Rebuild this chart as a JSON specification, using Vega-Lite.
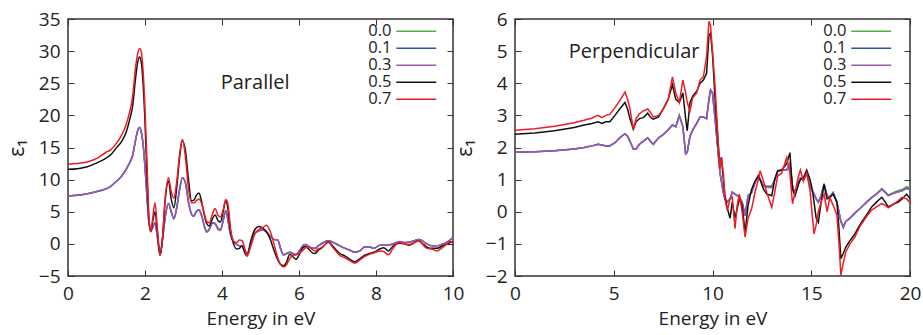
{
  "$schema": "https://vega.github.io/schema/vega-lite/v6.json",
  "padding": {"left": 5, "top": 9, "right": 5, "bottom": 3},
  "background": "white",
  "config": {
    "view": {"stroke": "#333333", "strokeWidth": 1.5},
    "font": "Open Sans",
    "axis": {"grid": false, "domain": false, "tickColor": "#333333", "tickWidth": 1, "tickSize": -6, "labelFont": "Open Sans", "labelFontSize": 19, "labelColor": "#222222", "titleFont": "Open Sans", "titleFontSize": 19, "titleFontWeight": "normal", "titleColor": "#222222", "labelFlush": false, "labelOverlap": false},
    "legend": {"orient": "none", "legendY": 4, "title": null, "symbolType": "M-3.33,0H3.33", "symbolSize": 144, "symbolStrokeWidth": 1.6, "labelAlign": "right", "labelOffset": -33, "labelFont": "Open Sans", "labelFontSize": 16.5, "labelColor": "#222222", "rowPadding": -1}
  },
  "resolve": {"scale": {"color": "independent"}, "legend": {"color": "independent"}},
  "spacing": 62,
  "bounds": "flush",
  "hconcat": [
    {
      "width": 385,
      "height": 257,
      "data": {"values": [
        {"E":0,"s0":7.45,"s1":7.45,"s3":7.45,"s5":11.6,"s7":12.4},
        {"E":0.25,"s0":7.55,"s1":7.55,"s3":7.55,"s5":11.7,"s7":12.5},
        {"E":0.5,"s0":7.8,"s1":7.8,"s3":7.8,"s5":12.0,"s7":12.75},
        {"E":0.75,"s0":8.15,"s1":8.15,"s3":8.15,"s5":12.6,"s7":13.3},
        {"E":1.0,"s0":8.6,"s1":8.6,"s3":8.6,"s5":13.4,"s7":14.3},
        {"E":1.1,"s0":8.9,"s1":8.9,"s3":8.9,"s5":13.8,"s7":14.6},
        {"E":1.25,"s0":9.7,"s1":9.7,"s3":9.7,"s5":14.9,"s7":15.6},
        {"E":1.4,"s0":10.6,"s1":10.6,"s3":10.6,"s5":16.0,"s7":17.0},
        {"E":1.5,"s0":11.5,"s1":11.5,"s3":11.5,"s5":17.2,"s7":18.4},
        {"E":1.6,"s0":12.6,"s1":12.6,"s3":12.6,"s5":19.3,"s7":20.5},
        {"E":1.68,"s0":13.8,"s1":13.8,"s3":13.8,"s5":21.5,"s7":23.0},
        {"E":1.75,"s0":16.0,"s1":16.0,"s3":16.0,"s5":25.5,"s7":27.2},
        {"E":1.81,"s0":17.6,"s1":17.6,"s3":17.6,"s5":28.3,"s7":29.6},
        {"E":1.86,"s0":18.1,"s1":18.1,"s3":18.1,"s5":29.1,"s7":30.4},
        {"E":1.9,"s0":17.5,"s1":17.5,"s3":17.5,"s5":28.4,"s7":30.0},
        {"E":1.95,"s0":15.5,"s1":15.5,"s3":15.5,"s5":25.0,"s7":27.0},
        {"E":2.0,"s0":12.0,"s1":12.0,"s3":12.0,"s5":19.0,"s7":21.0},
        {"E":2.05,"s0":7.5,"s1":7.5,"s3":7.5,"s5":11.0,"s7":13.0},
        {"E":2.1,"s0":3.5,"s1":3.5,"s3":3.5,"s5":4.0,"s7":4.5},
        {"E":2.15,"s0":2.0,"s1":2.0,"s3":2.0,"s5":1.9,"s7":1.9},
        {"E":2.2,"s0":2.6,"s1":2.6,"s3":2.6,"s5":3.5,"s7":4.0},
        {"E":2.26,"s0":3.3,"s1":3.3,"s3":3.3,"s5":5.0,"s7":6.4},
        {"E":2.32,"s0":1.2,"s1":1.2,"s3":1.2,"s5":2.0,"s7":2.5},
        {"E":2.39,"s0":-1.7,"s1":-1.7,"s3":-1.7,"s5":-1.7,"s7":-1.8},
        {"E":2.45,"s0":0.5,"s1":0.5,"s3":0.5,"s5":0.5,"s7":0.5},
        {"E":2.52,"s0":4.0,"s1":4.0,"s3":4.0,"s5":6.5,"s7":6.8},
        {"E":2.61,"s0":6.3,"s1":6.3,"s3":6.3,"s5":9.8,"s7":10.3},
        {"E":2.68,"s0":5.0,"s1":5.0,"s3":5.0,"s5":7.0,"s7":8.2},
        {"E":2.75,"s0":3.9,"s1":3.9,"s3":3.9,"s5":5.6,"s7":7.1},
        {"E":2.82,"s0":5.5,"s1":5.5,"s3":5.5,"s5":8.5,"s7":9.5},
        {"E":2.9,"s0":8.5,"s1":8.5,"s3":8.5,"s5":13.5,"s7":14.0},
        {"E":2.97,"s0":10.3,"s1":10.3,"s3":10.3,"s5":16.0,"s7":16.3},
        {"E":3.05,"s0":9.5,"s1":9.5,"s3":9.5,"s5":14.5,"s7":13.5},
        {"E":3.13,"s0":6.5,"s1":6.5,"s3":6.5,"s5":10.0,"s7":8.5},
        {"E":3.21,"s0":4.6,"s1":4.6,"s3":4.6,"s5":6.7,"s7":6.4},
        {"E":3.27,"s0":4.3,"s1":4.3,"s3":4.3,"s5":6.8,"s7":6.4},
        {"E":3.33,"s0":5.0,"s1":5.0,"s3":5.0,"s5":7.5,"s7":6.7},
        {"E":3.4,"s0":5.3,"s1":5.3,"s3":5.3,"s5":7.9,"s7":7.0},
        {"E":3.47,"s0":4.4,"s1":4.4,"s3":4.4,"s5":6.6,"s7":6.3},
        {"E":3.55,"s0":2.6,"s1":2.6,"s3":2.6,"s5":4.2,"s7":4.5},
        {"E":3.6,"s0":1.8,"s1":1.9,"s3":1.9,"s5":3.2,"s7":3.5},
        {"E":3.67,"s0":2.2,"s1":2.3,"s3":2.3,"s5":2.8,"s7":3.3},
        {"E":3.75,"s0":3.2,"s1":3.3,"s3":3.3,"s5":3.9,"s7":4.6},
        {"E":3.82,"s0":3.1,"s1":3.2,"s3":3.2,"s5":4.5,"s7":5.5},
        {"E":3.9,"s0":2.2,"s1":2.4,"s3":2.4,"s5":3.6,"s7":4.4},
        {"E":3.96,"s0":2.1,"s1":2.2,"s3":2.2,"s5":3.4,"s7":4.2},
        {"E":4.03,"s0":3.6,"s1":3.6,"s3":3.6,"s5":5.0,"s7":5.3},
        {"E":4.1,"s0":5.2,"s1":5.2,"s3":5.2,"s5":6.8,"s7":6.9},
        {"E":4.16,"s0":3.5,"s1":3.5,"s3":3.5,"s5":5.2,"s7":6.0},
        {"E":4.22,"s0":1.5,"s1":1.5,"s3":1.5,"s5":2.0,"s7":2.5},
        {"E":4.3,"s0":0.4,"s1":0.4,"s3":0.4,"s5":0.0,"s7":0.4},
        {"E":4.38,"s0":-0.1,"s1":-0.1,"s3":-0.1,"s5":-0.8,"s7":0.2},
        {"E":4.45,"s0":-0.3,"s1":-0.3,"s3":-0.3,"s5":-0.7,"s7":0.6},
        {"E":4.52,"s0":-0.3,"s1":-0.3,"s3":-0.3,"s5":-0.3,"s7":0.5},
        {"E":4.58,"s0":-0.9,"s1":-0.9,"s3":-0.9,"s5":-1.2,"s7":-0.5},
        {"E":4.65,"s0":-1.5,"s1":-1.5,"s3":-1.5,"s5":-1.9,"s7":-1.9},
        {"E":4.75,"s0":0.0,"s1":0.0,"s3":0.0,"s5":0.5,"s7":-0.3},
        {"E":4.85,"s0":1.6,"s1":1.6,"s3":1.6,"s5":2.2,"s7":1.5},
        {"E":4.95,"s0":2.0,"s1":2.0,"s3":2.0,"s5":2.7,"s7":2.2},
        {"E":5.05,"s0":2.2,"s1":2.2,"s3":2.2,"s5":2.5,"s7":2.5},
        {"E":5.15,"s0":1.9,"s1":1.9,"s3":1.9,"s5":1.9,"s7":2.9},
        {"E":5.25,"s0":1.2,"s1":1.2,"s3":1.2,"s5":0.8,"s7":2.0},
        {"E":5.35,"s0":0.7,"s1":0.7,"s3":0.7,"s5":-1.0,"s7":0.0},
        {"E":5.45,"s0":0.6,"s1":0.6,"s3":0.6,"s5":-2.5,"s7":-2.2},
        {"E":5.52,"s0":-0.7,"s1":-0.7,"s3":-0.7,"s5":-3.2,"s7":-3.2},
        {"E":5.6,"s0":-1.7,"s1":-1.7,"s3":-1.7,"s5":-3.4,"s7":-3.6},
        {"E":5.68,"s0":-1.5,"s1":-1.5,"s3":-1.5,"s5":-2.8,"s7":-3.2},
        {"E":5.76,"s0":-1.3,"s1":-1.3,"s3":-1.3,"s5":-1.6,"s7":-2.3},
        {"E":5.84,"s0":-1.5,"s1":-1.5,"s3":-1.5,"s5":-2.0,"s7":-1.8},
        {"E":5.92,"s0":-1.7,"s1":-1.7,"s3":-1.7,"s5":-2.4,"s7":-1.6},
        {"E":6.02,"s0":-1.0,"s1":-1.0,"s3":-1.0,"s5":-1.5,"s7":-1.4},
        {"E":6.1,"s0":-0.3,"s1":-0.3,"s3":-0.3,"s5":-0.6,"s7":-1.0},
        {"E":6.17,"s0":-0.1,"s1":-0.1,"s3":-0.1,"s5":-0.4,"s7":-0.6},
        {"E":6.25,"s0":-0.4,"s1":-0.4,"s3":-0.4,"s5":-0.8,"s7":-0.5},
        {"E":6.35,"s0":-0.7,"s1":-0.7,"s3":-0.7,"s5":-1.4,"s7":-0.9},
        {"E":6.42,"s0":-0.7,"s1":-0.7,"s3":-0.7,"s5":-1.5,"s7":-1.1},
        {"E":6.5,"s0":-0.3,"s1":-0.3,"s3":-0.3,"s5":-1.0,"s7":-0.8},
        {"E":6.6,"s0":0.1,"s1":0.1,"s3":0.1,"s5":-0.6,"s7":-0.5},
        {"E":6.76,"s0":0.5,"s1":0.5,"s3":0.5,"s5":0.3,"s7":0.2},
        {"E":6.9,"s0":0.2,"s1":0.2,"s3":0.2,"s5":-0.5,"s7":-0.7},
        {"E":7.06,"s0":-0.3,"s1":-0.3,"s3":-0.3,"s5":-1.5,"s7":-1.8},
        {"E":7.2,"s0":-0.7,"s1":-0.7,"s3":-0.7,"s5":-1.9,"s7":-2.2},
        {"E":7.32,"s0":-1.0,"s1":-1.0,"s3":-1.0,"s5":-2.4,"s7":-2.6},
        {"E":7.45,"s0":-1.3,"s1":-1.3,"s3":-1.3,"s5":-2.8,"s7":-3.0},
        {"E":7.6,"s0":-1.0,"s1":-1.0,"s3":-1.0,"s5":-2.2,"s7":-2.4},
        {"E":7.7,"s0":-0.5,"s1":-0.5,"s3":-0.5,"s5":-1.8,"s7":-2.0},
        {"E":7.84,"s0":-0.5,"s1":-0.5,"s3":-0.5,"s5":-1.5,"s7":-1.6},
        {"E":7.95,"s0":-0.7,"s1":-0.7,"s3":-0.7,"s5":-1.3,"s7":-1.4},
        {"E":8.1,"s0":-0.2,"s1":-0.2,"s3":-0.2,"s5":-0.8,"s7":-1.1},
        {"E":8.2,"s0":-0.2,"s1":-0.2,"s3":-0.2,"s5":-0.6,"s7":-1.2},
        {"E":8.32,"s0":-0.2,"s1":-0.2,"s3":-0.2,"s5":-1.1,"s7":-1.7},
        {"E":8.45,"s0":0.0,"s1":0.0,"s3":0.0,"s5":-0.3,"s7":-0.6},
        {"E":8.6,"s0":0.3,"s1":0.3,"s3":0.3,"s5":0.1,"s7":0.2},
        {"E":8.75,"s0":0.2,"s1":0.2,"s3":0.2,"s5":0.0,"s7":0.0},
        {"E":8.86,"s0":0.3,"s1":0.3,"s3":0.3,"s5":-0.2,"s7":-0.1},
        {"E":9.0,"s0":0.5,"s1":0.5,"s3":0.5,"s5":0.2,"s7":0.2},
        {"E":9.1,"s0":0.7,"s1":0.7,"s3":0.7,"s5":0.5,"s7":0.5},
        {"E":9.2,"s0":0.5,"s1":0.5,"s3":0.5,"s5":0.1,"s7":0.0},
        {"E":9.32,"s0":0.0,"s1":0.0,"s3":0.0,"s5":-0.5,"s7":-0.7},
        {"E":9.45,"s0":-0.3,"s1":-0.3,"s3":-0.3,"s5":-0.7,"s7":-0.8},
        {"E":9.58,"s0":-0.3,"s1":-0.3,"s3":-0.3,"s5":-0.7,"s7":-1.1},
        {"E":9.7,"s0":-0.1,"s1":-0.1,"s3":-0.1,"s5":-0.4,"s7":-0.7},
        {"E":9.82,"s0":0.2,"s1":0.2,"s3":0.2,"s5":-0.1,"s7":-0.1},
        {"E":9.92,"s0":0.6,"s1":0.6,"s3":0.6,"s5":0.2,"s7":0.4},
        {"E":10.0,"s0":1.0,"s1":1.0,"s3":1.0,"s5":0.3,"s7":0.1}
      ]},
      "resolve": {"axis": {"x": "independent", "y": "independent"}},
      "layer": [
        {
          "transform": [{"fold": ["s0", "s1", "s3", "s5", "s7"], "as": ["s", "v"]}],
          "mark": {"type": "line", "strokeWidth": 1.5, "interpolate": "monotone", "clip": true},
          "encoding": {
            "x": {"field": "E", "type": "quantitative", "scale": {"domain": [0, 10], "nice": false}, "axis": {"orient": "bottom", "values": [0, 2, 4, 6, 8, 10], "title": "Energy in eV", "labelPadding": 14, "titlePadding": 6}},
            "y": {"field": "v", "type": "quantitative", "scale": {"domain": [-5, 35], "nice": false}, "axis": {"orient": "left", "values": [-5, 0, 5, 10, 15, 20, 25, 30, 35], "title": "ε₁", "titleFontSize": 21, "labelPadding": 14, "titlePadding": 11}},
            "color": {"field": "s", "type": "nominal", "scale": {"domain": ["s0", "s1", "s3", "s5", "s7"], "range": ["#4cb43c", "#2d55b4", "#a255b4", "#111111", "#ee1c24"]}, "legend": {"legendX": 340, "labelExpr": "'0.' + slice(datum.label, 1)"}}
          }
        },
        {
          "mark": {"type": "point", "opacity": 0},
          "encoding": {
            "x": {"field": "E", "type": "quantitative", "axis": {"orient": "top", "values": [0, 2, 4, 6, 8, 10], "labels": false, "title": null}},
            "y": {"field": "s3", "type": "quantitative", "axis": {"orient": "right", "values": [-5, 0, 5, 10, 15, 20, 25, 30, 35], "labels": false, "title": null}}
          }
        },
        {
          "data": {"values": [{"label": "Parallel"}]},
          "mark": {"type": "text", "font": "Open Sans", "fontSize": 20, "color": "#222222", "align": "center", "baseline": "middle"},
          "encoding": {
            "x": {"datum": 4.86, "type": "quantitative", "axis": null},
            "y": {"datum": 25.0, "type": "quantitative", "axis": null},
            "text": {"field": "label"}
          }
        }
      ]
    },
    {
      "width": 395,
      "height": 257,
      "data": {"values": [
        {"E":0,"s0":1.85,"s1":1.85,"s3":1.85,"s5":2.41,"s7":2.54},
        {"E":1.0,"s0":1.87,"s1":1.87,"s3":1.87,"s5":2.45,"s7":2.58},
        {"E":2.0,"s0":1.9,"s1":1.9,"s3":1.9,"s5":2.52,"s7":2.66},
        {"E":3.0,"s0":1.95,"s1":1.95,"s3":1.95,"s5":2.62,"s7":2.77},
        {"E":3.5,"s0":2.0,"s1":2.0,"s3":2.0,"s5":2.7,"s7":2.85},
        {"E":3.9,"s0":2.05,"s1":2.05,"s3":2.05,"s5":2.75,"s7":2.92},
        {"E":4.2,"s0":2.1,"s1":2.1,"s3":2.1,"s5":2.8,"s7":3.0},
        {"E":4.4,"s0":2.08,"s1":2.08,"s3":2.08,"s5":2.75,"s7":2.93},
        {"E":4.6,"s0":2.05,"s1":2.05,"s3":2.05,"s5":2.8,"s7":3.0},
        {"E":4.8,"s0":2.05,"s1":2.05,"s3":2.05,"s5":2.8,"s7":3.03},
        {"E":5.06,"s0":2.15,"s1":2.15,"s3":2.15,"s5":3.0,"s7":3.24},
        {"E":5.3,"s0":2.3,"s1":2.3,"s3":2.3,"s5":3.2,"s7":3.45},
        {"E":5.57,"s0":2.43,"s1":2.43,"s3":2.43,"s5":3.4,"s7":3.73},
        {"E":5.7,"s0":2.35,"s1":2.35,"s3":2.35,"s5":3.2,"s7":3.5},
        {"E":5.82,"s0":2.2,"s1":2.2,"s3":2.2,"s5":2.9,"s7":3.22},
        {"E":5.99,"s0":1.95,"s1":1.95,"s3":1.95,"s5":2.57,"s7":2.57},
        {"E":6.13,"s0":1.95,"s1":1.95,"s3":1.95,"s5":2.8,"s7":2.9},
        {"E":6.3,"s0":2.1,"s1":2.1,"s3":2.1,"s5":2.9,"s7":3.05},
        {"E":6.5,"s0":2.2,"s1":2.2,"s3":2.2,"s5":2.93,"s7":3.14},
        {"E":6.72,"s0":2.3,"s1":2.3,"s3":2.3,"s5":3.07,"s7":3.2},
        {"E":6.85,"s0":2.2,"s1":2.2,"s3":2.2,"s5":2.95,"s7":3.1},
        {"E":7.0,"s0":2.1,"s1":2.1,"s3":2.1,"s5":2.88,"s7":2.95},
        {"E":7.27,"s0":2.3,"s1":2.3,"s3":2.3,"s5":2.95,"s7":3.0},
        {"E":7.5,"s0":2.4,"s1":2.4,"s3":2.4,"s5":3.2,"s7":3.19},
        {"E":7.76,"s0":2.55,"s1":2.55,"s3":2.55,"s5":3.5,"s7":3.49},
        {"E":7.97,"s0":2.7,"s1":2.7,"s3":2.7,"s5":3.95,"s7":4.2},
        {"E":8.14,"s0":2.65,"s1":2.65,"s3":2.65,"s5":3.5,"s7":3.7},
        {"E":8.32,"s0":3.0,"s1":3.0,"s3":2.98,"s5":3.4,"s7":3.4},
        {"E":8.5,"s0":2.65,"s1":2.65,"s3":2.65,"s5":3.7,"s7":4.1},
        {"E":8.64,"s0":1.8,"s1":1.8,"s3":1.8,"s5":2.9,"s7":3.7},
        {"E":8.72,"s0":1.85,"s1":1.85,"s3":1.85,"s5":2.52,"s7":3.4},
        {"E":8.86,"s0":2.35,"s1":2.35,"s3":2.35,"s5":3.4,"s7":3.14},
        {"E":9.0,"s0":2.55,"s1":2.55,"s3":2.55,"s5":3.6,"s7":3.55},
        {"E":9.2,"s0":2.75,"s1":2.75,"s3":2.75,"s5":3.75,"s7":3.7},
        {"E":9.37,"s0":2.95,"s1":2.95,"s3":2.95,"s5":4.0,"s7":4.1},
        {"E":9.54,"s0":2.95,"s1":2.95,"s3":2.95,"s5":4.1,"s7":4.2},
        {"E":9.7,"s0":2.9,"s1":2.9,"s3":2.9,"s5":4.3,"s7":4.84},
        {"E":9.82,"s0":3.5,"s1":3.5,"s3":3.5,"s5":5.5,"s7":5.93},
        {"E":9.9,"s0":3.79,"s1":3.79,"s3":3.79,"s5":5.55,"s7":5.8},
        {"E":10.0,"s0":3.7,"s1":3.7,"s3":3.7,"s5":4.9,"s7":5.0},
        {"E":10.13,"s0":2.9,"s1":2.9,"s3":2.9,"s5":3.5,"s7":3.9},
        {"E":10.3,"s0":1.74,"s1":1.74,"s3":1.74,"s5":2.0,"s7":2.05},
        {"E":10.38,"s0":1.2,"s1":1.2,"s3":1.2,"s5":1.4,"s7":1.33},
        {"E":10.45,"s0":0.95,"s1":0.95,"s3":0.95,"s5":1.7,"s7":1.7},
        {"E":10.55,"s0":0.6,"s1":0.6,"s3":0.6,"s5":1.0,"s7":1.2},
        {"E":10.63,"s0":0.4,"s1":0.4,"s3":0.4,"s5":0.5,"s7":0.4},
        {"E":10.75,"s0":0.3,"s1":0.3,"s3":0.3,"s5":0.1,"s7":0.04},
        {"E":10.89,"s0":0.4,"s1":0.4,"s3":0.4,"s5":-0.2,"s7":0.4},
        {"E":11.0,"s0":0.62,"s1":0.6,"s3":0.6,"s5":0.3,"s7":0.45},
        {"E":11.14,"s0":0.55,"s1":0.55,"s3":0.55,"s5":-0.2,"s7":-0.53},
        {"E":11.25,"s0":0.5,"s1":0.5,"s3":0.5,"s5":0.1,"s7":0.2},
        {"E":11.36,"s0":0.45,"s1":0.45,"s3":0.45,"s5":0.4,"s7":0.55},
        {"E":11.5,"s0":0.3,"s1":0.3,"s3":0.3,"s5":0.2,"s7":0.0},
        {"E":11.65,"s0":-0.12,"s1":-0.12,"s3":-0.12,"s5":-0.65,"s7":-0.79},
        {"E":11.8,"s0":0.5,"s1":0.5,"s3":0.5,"s5":0.2,"s7":-0.2},
        {"E":11.98,"s0":0.6,"s1":0.6,"s3":0.6,"s5":0.7,"s7":0.09},
        {"E":12.15,"s0":0.9,"s1":0.9,"s3":0.9,"s5":0.95,"s7":0.6},
        {"E":12.32,"s0":1.12,"s1":1.12,"s3":1.12,"s5":1.12,"s7":1.0},
        {"E":12.41,"s0":1.0,"s1":1.0,"s3":1.0,"s5":1.0,"s7":1.28},
        {"E":12.58,"s0":0.8,"s1":0.8,"s3":0.8,"s5":0.7,"s7":0.95},
        {"E":12.75,"s0":0.8,"s1":0.78,"s3":0.76,"s5":0.55,"s7":0.6},
        {"E":13.0,"s0":0.8,"s1":0.77,"s3":0.75,"s5":0.5,"s7":0.14},
        {"E":13.15,"s0":1.0,"s1":1.0,"s3":1.0,"s5":1.0,"s7":0.6},
        {"E":13.3,"s0":1.25,"s1":1.25,"s3":1.25,"s5":1.28,"s7":1.12},
        {"E":13.5,"s0":1.3,"s1":1.3,"s3":1.3,"s5":1.3,"s7":1.2},
        {"E":13.76,"s0":1.3,"s1":1.3,"s3":1.3,"s5":1.5,"s7":1.69},
        {"E":13.92,"s0":1.5,"s1":1.5,"s3":1.5,"s5":1.84,"s7":1.2},
        {"E":14.05,"s0":0.8,"s1":0.8,"s3":0.8,"s5":0.7,"s7":0.25},
        {"E":14.18,"s0":0.55,"s1":0.55,"s3":0.55,"s5":0.5,"s7":0.6},
        {"E":14.35,"s0":0.9,"s1":0.9,"s3":0.9,"s5":0.85,"s7":1.1},
        {"E":14.45,"s0":1.05,"s1":1.05,"s3":1.05,"s5":1.0,"s7":1.3},
        {"E":14.6,"s0":1.0,"s1":1.0,"s3":1.0,"s5":1.05,"s7":0.95},
        {"E":14.77,"s0":1.2,"s1":1.2,"s3":1.2,"s5":1.3,"s7":1.2},
        {"E":14.94,"s0":0.8,"s1":0.8,"s3":0.8,"s5":1.0,"s7":0.65},
        {"E":15.05,"s0":0.65,"s1":0.65,"s3":0.65,"s5":0.7,"s7":-0.1},
        {"E":15.14,"s0":0.55,"s1":0.55,"s3":0.55,"s5":0.3,"s7":-0.69},
        {"E":15.25,"s0":0.4,"s1":0.4,"s3":0.4,"s5":-0.2,"s7":-0.4},
        {"E":15.36,"s0":0.3,"s1":0.3,"s3":0.3,"s5":-0.33,"s7":0.0},
        {"E":15.5,"s0":0.5,"s1":0.5,"s3":0.5,"s5":0.3,"s7":0.3},
        {"E":15.65,"s0":0.88,"s1":0.86,"s3":0.86,"s5":0.85,"s7":0.55},
        {"E":15.8,"s0":0.5,"s1":0.5,"s3":0.5,"s5":0.4,"s7":0.0},
        {"E":15.94,"s0":0.45,"s1":0.45,"s3":0.45,"s5":0.45,"s7":0.44},
        {"E":16.11,"s0":0.6,"s1":0.6,"s3":0.6,"s5":0.55,"s7":0.2},
        {"E":16.3,"s0":0.3,"s1":0.3,"s3":0.3,"s5":0.3,"s7":-0.1},
        {"E":16.4,"s0":0.0,"s1":0.0,"s3":0.0,"s5":-0.5,"s7":-0.95},
        {"E":16.5,"s0":-0.3,"s1":-0.3,"s3":-0.3,"s5":-1.46,"s7":-1.97},
        {"E":16.62,"s0":-0.5,"s1":-0.47,"s3":-0.45,"s5":-1.3,"s7":-1.6},
        {"E":16.75,"s0":-0.3,"s1":-0.3,"s3":-0.3,"s5":-1.1,"s7":-1.25},
        {"E":16.96,"s0":-0.2,"s1":-0.2,"s3":-0.2,"s5":-0.9,"s7":-1.0},
        {"E":17.2,"s0":-0.05,"s1":-0.05,"s3":-0.05,"s5":-0.7,"s7":-0.8},
        {"E":17.47,"s0":0.1,"s1":0.1,"s3":0.1,"s5":-0.4,"s7":-0.45},
        {"E":17.8,"s0":0.3,"s1":0.3,"s3":0.3,"s5":-0.1,"s7":-0.15},
        {"E":18.06,"s0":0.45,"s1":0.44,"s3":0.44,"s5":0.15,"s7":0.05},
        {"E":18.3,"s0":0.56,"s1":0.55,"s3":0.55,"s5":0.3,"s7":0.15},
        {"E":18.57,"s0":0.72,"s1":0.7,"s3":0.7,"s5":0.45,"s7":0.25},
        {"E":18.75,"s0":0.62,"s1":0.6,"s3":0.6,"s5":0.3,"s7":0.2},
        {"E":18.9,"s0":0.52,"s1":0.5,"s3":0.5,"s5":0.15,"s7":0.12},
        {"E":19.2,"s0":0.61,"s1":0.58,"s3":0.58,"s5":0.25,"s7":0.25},
        {"E":19.41,"s0":0.66,"s1":0.62,"s3":0.62,"s5":0.3,"s7":0.35},
        {"E":19.6,"s0":0.69,"s1":0.65,"s3":0.65,"s5":0.4,"s7":0.45},
        {"E":19.83,"s0":0.78,"s1":0.74,"s3":0.72,"s5":0.55,"s7":0.4},
        {"E":20.0,"s0":0.74,"s1":0.7,"s3":0.68,"s5":0.4,"s7":0.28}
      ]},
      "resolve": {"axis": {"x": "independent", "y": "independent"}},
      "layer": [
        {
          "transform": [{"fold": ["s0", "s1", "s3", "s5", "s7"], "as": ["s", "v"]}],
          "mark": {"type": "line", "strokeWidth": 1.5, "clip": true},
          "encoding": {
            "x": {"field": "E", "type": "quantitative", "scale": {"domain": [0, 20], "nice": false}, "axis": {"orient": "bottom", "values": [0, 5, 10, 15, 20], "title": "Energy in eV", "labelPadding": 14, "titlePadding": 6}},
            "y": {"field": "v", "type": "quantitative", "scale": {"domain": [-2, 6], "nice": false}, "axis": {"orient": "left", "values": [-2, -1, 0, 1, 2, 3, 4, 5, 6], "title": "ε₁", "titleFontSize": 21, "labelPadding": 14, "titlePadding": 10}},
            "color": {"field": "s", "type": "nominal", "scale": {"domain": ["s0", "s1", "s3", "s5", "s7"], "range": ["#4cb43c", "#2d55b4", "#a255b4", "#111111", "#ee1c24"]}, "legend": {"legendX": 348, "labelExpr": "'0.' + slice(datum.label, 1)"}}
          }
        },
        {
          "mark": {"type": "point", "opacity": 0},
          "encoding": {
            "x": {"field": "E", "type": "quantitative", "axis": {"orient": "top", "values": [0, 5, 10, 15, 20], "labels": false, "title": null}},
            "y": {"field": "s3", "type": "quantitative", "axis": {"orient": "right", "values": [-2, -1, 0, 1, 2, 3, 4, 5, 6], "labels": false, "title": null}}
          }
        },
        {
          "data": {"values": [{"label": "Perpendicular"}]},
          "mark": {"type": "text", "font": "Open Sans", "fontSize": 20, "color": "#222222", "align": "center", "baseline": "middle"},
          "encoding": {
            "x": {"datum": 6.03, "type": "quantitative", "axis": null},
            "y": {"datum": 4.98, "type": "quantitative", "axis": null},
            "text": {"field": "label"}
          }
        }
      ]
    }
  ]
}
